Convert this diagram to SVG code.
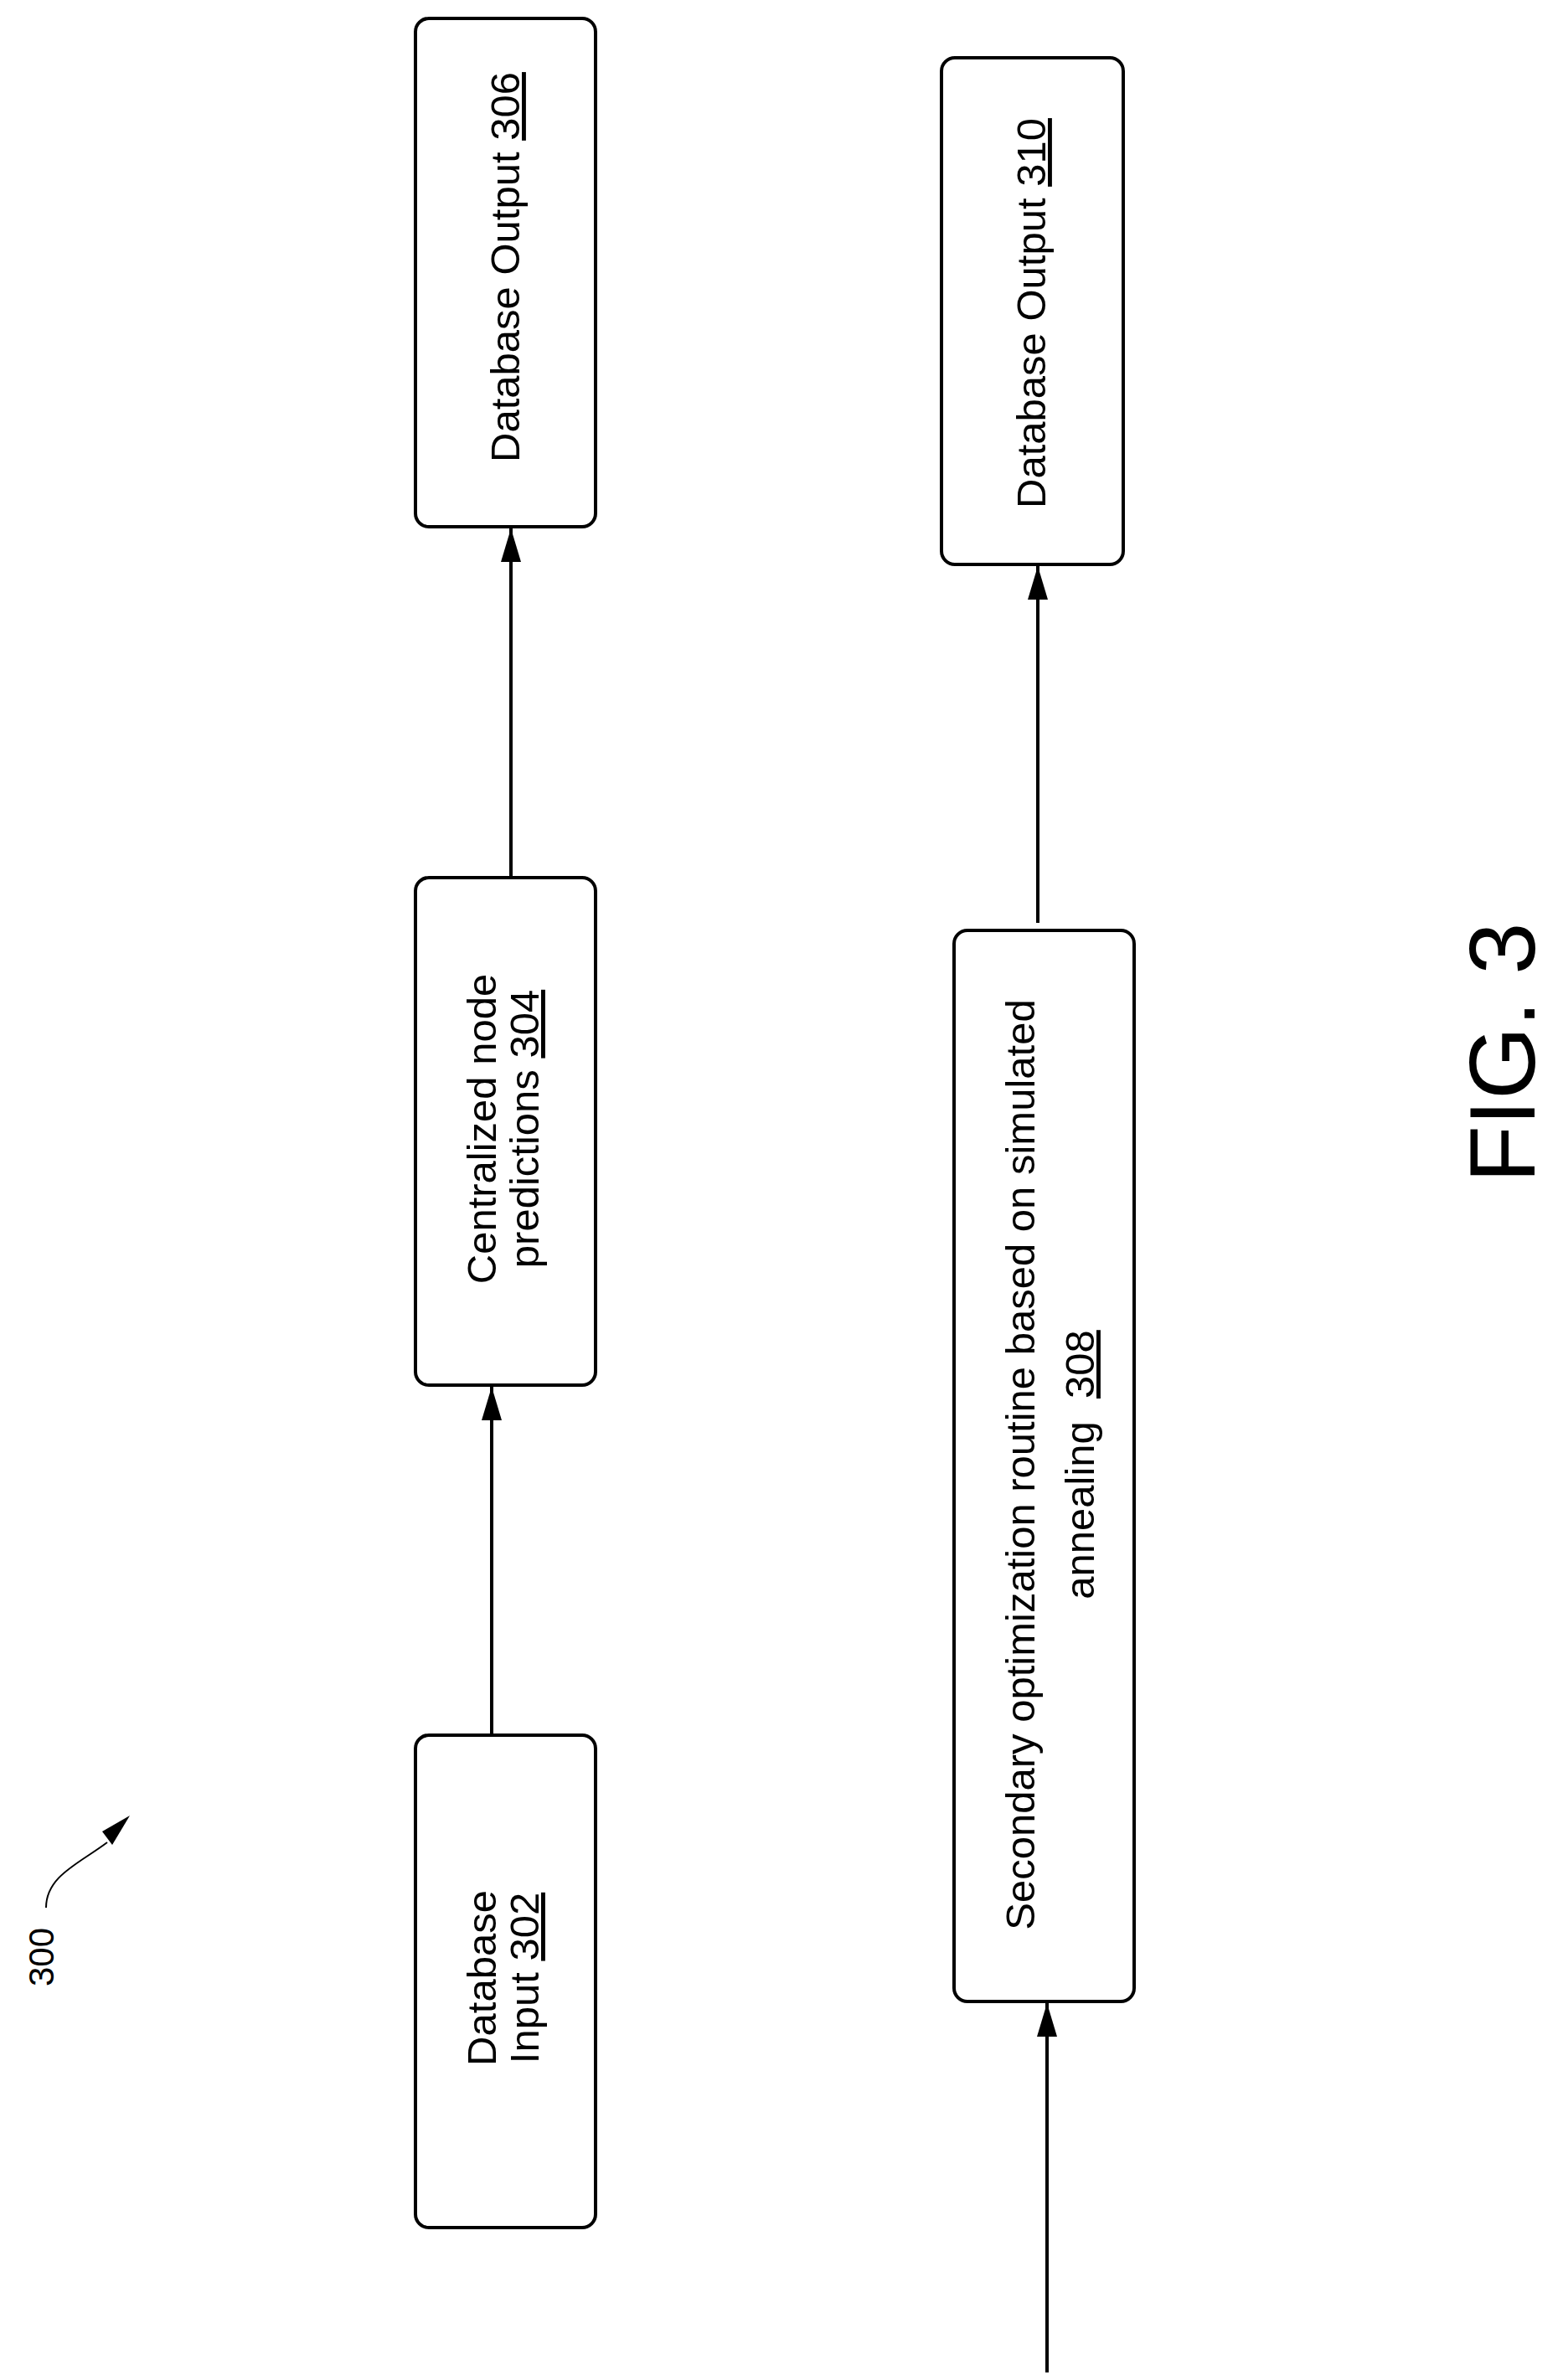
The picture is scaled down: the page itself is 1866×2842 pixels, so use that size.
<svg xmlns="http://www.w3.org/2000/svg" width="1866" height="2842" viewBox="0 0 1866 2842">
<style>
.box{fill:#fff;stroke:#000;stroke-width:4}
.t{font-family:"Liberation Sans",Arial,sans-serif;font-size:49px;text-anchor:middle;fill:#000}
.u{text-decoration:underline}
.c{stroke:#000;stroke-width:4;fill:none}
</style>
<defs>
<marker id="ahb" markerWidth="40" markerHeight="24" refX="40" refY="12" orient="auto" markerUnits="userSpaceOnUse">
<path d="M0,0 L40,12 L0,24 z" fill="#000"/>
</marker>
</defs>
<rect width="1866" height="2842" fill="#fff"/>
<g id="connectors">
<line class="c" x1="587" y1="2077" x2="587" y2="1656" marker-end="url(#ahb)"/>
<line class="c" x1="610" y1="1048" x2="610" y2="631" marker-end="url(#ahb)"/>
<line class="c" x1="1239" y1="1102" x2="1239" y2="676" marker-end="url(#ahb)"/>
<line class="c" x1="1250" y1="2833" x2="1250" y2="2392" marker-end="url(#ahb)"/>
</g>
<g id="n306"><rect class="box" x="496" y="22" width="215" height="607" rx="16"/>
<text class="t" transform="translate(620,319) rotate(-90)">Database Output <tspan class="u">306</tspan></text></g>
<g id="n310"><rect class="box" x="1124" y="69" width="217" height="605" rx="16"/>
<text class="t" transform="translate(1248,374) rotate(-90)">Database Output <tspan class="u">310</tspan></text></g>
<g id="n304"><rect class="box" x="496" y="1048" width="215" height="606" rx="16"/>
<text class="t" transform="translate(592,1348) rotate(-90)">Centralized node</text>
<text class="t" transform="translate(643,1348) rotate(-90)">predictions <tspan class="u">304</tspan></text></g>
<g id="n308"><rect class="box" x="1139" y="1111" width="215" height="1279" rx="16"/>
<text class="t" transform="translate(1235,1749) rotate(-90)">Secondary optimization routine based on simulated</text>
<text class="t" transform="translate(1306,1749) rotate(-90)" xml:space="preserve">annealing  <tspan class="u">308</tspan></text></g>
<g id="n302"><rect class="box" x="496" y="2072" width="215" height="588" rx="16"/>
<text class="t" transform="translate(592,2362) rotate(-90)">Database</text>
<text class="t" transform="translate(643,2362) rotate(-90)">Input <tspan class="u">302</tspan></text></g>
<g id="label300">
<text class="t" style="font-size:42px" transform="translate(64,2337) rotate(-90)">300</text>
<path d="M55,2278 C55,2240 95,2225 128,2200" stroke="#000" stroke-width="2" fill="none"/>
<path d="M155,2168 L122,2187 L134,2203 z" fill="#000"/>
</g>
<text class="t" style="font-size:112px" transform="translate(1832,1257) rotate(-90)">FIG. 3</text>
</svg>
